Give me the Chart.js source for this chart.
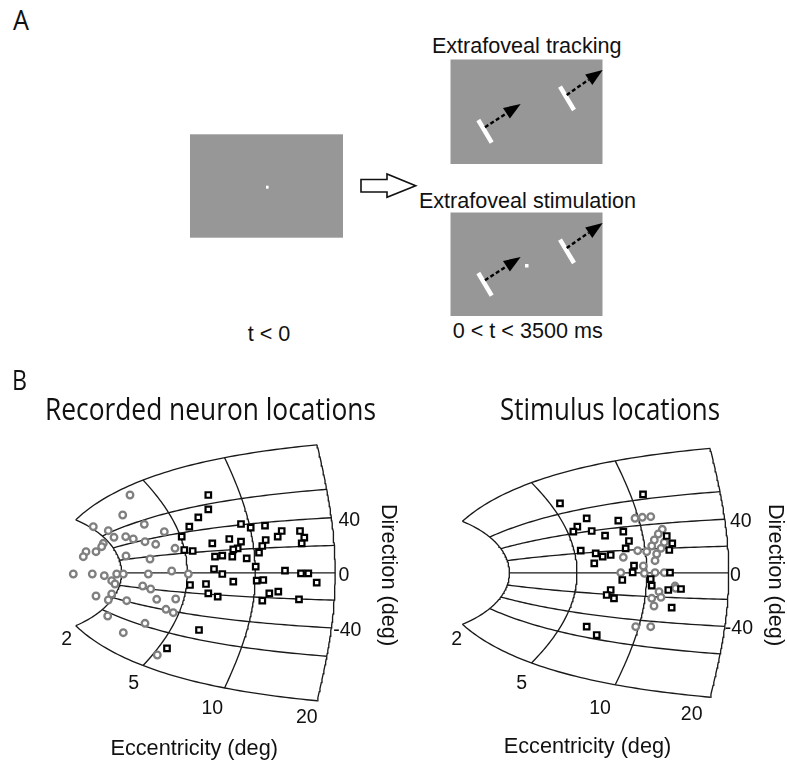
<!DOCTYPE html>
<html>
<head>
<meta charset="utf-8">
<script src="https://cdn.jsdelivr.net/npm/chart.js@4.4.0/dist/chart.umd.min.js"></script>
<style>
  html, body { margin: 0; padding: 0; background: #fff; }
  body { width: 787px; height: 764px; position: relative; overflow: hidden; }
  #panelA { position: absolute; left: 0; top: 0; }
  canvas { position: absolute; }
  #mapNeurons { left: 0; top: 360px; }
  #mapStimuli { left: 393px; top: 360px; }
  .sans { font-family: "Liberation Sans", Arial, sans-serif; font-size: 21.6px; fill: #111; }
  .letter { font-family: "Open Sans", "Noto Sans", sans-serif; font-size: 27px; fill: #111; }
</style>
</head>
<body>

<!-- Panel A: task schematic -->
<svg id="panelA" width="787" height="360" xmlns="http://www.w3.org/2000/svg">
  <defs>
    <g id="movingBars">
      <line x1="478.3" y1="120" x2="491.7" y2="142.7" stroke="#fff" stroke-width="4.5"/>
      <line x1="560" y1="86.7" x2="574" y2="110" stroke="#fff" stroke-width="4.5"/>
      <line x1="485" y1="127.3" x2="506.5" y2="113.3" stroke="#000" stroke-width="2.4" stroke-dasharray="4 2.5"/>
      <polygon points="520.7,104 509.9,118.6 503.0,108.0" fill="#000"/>
      <line x1="566.7" y1="95" x2="588.7" y2="79.7" stroke="#000" stroke-width="2.4" stroke-dasharray="4 2.5"/>
      <polygon points="602.7,70 592.3,84.9 585.2,74.5" fill="#000"/>
    </g>
  </defs>

  <text class="letter" x="13" y="29.5" textLength="16" lengthAdjust="spacingAndGlyphs">A</text>

  <!-- fixation -->
  <rect x="190" y="134.3" width="153" height="103.4" fill="#979797"/>
  <rect x="266" y="185.7" width="2.6" height="3" fill="#fff"/>
  <text class="sans" x="269" y="340.5" text-anchor="middle">t &lt; 0</text>

  <!-- transition arrow -->
  <polygon points="361,179.5 387,179.5 387,174 415.7,185.7 387,197.3 387,192 361,192"
           fill="#fff" stroke="#111" stroke-width="1.6" stroke-linejoin="miter"/>

  <!-- tracking condition -->
  <text class="sans" x="526.7" y="53.3" text-anchor="middle">Extrafoveal tracking</text>
  <rect x="450.5" y="59.5" width="152" height="104.5" fill="#979797"/>
  <use href="#movingBars"/>

  <!-- stimulation condition -->
  <text class="sans" x="527.5" y="208.3" text-anchor="middle">Extrafoveal stimulation</text>
  <rect x="450.5" y="212.5" width="152" height="103.5" fill="#979797"/>
  <use href="#movingBars" transform="translate(0,153)"/>
  <rect x="525" y="264" width="3.5" height="3.5" fill="#fff"/>
  <text class="sans" x="527.7" y="337.5" text-anchor="middle">0 &lt; t &lt; 3500 ms</text>
</svg>

<canvas id="mapNeurons" width="400" height="404"></canvas>
<canvas id="mapStimuli" width="394" height="404"></canvas>

<script>
// Grid of the collicular map: iso-eccentricity arcs and iso-direction lines (deg)
const ECC_ARCS = [2, 5, 10, 20];
const DIRECTION_LINES = [-90, -60, -40, -20, 0, 20, 40, 60, 90];
const DIRECTION_TICKS = [40, 0, -40];

const MAP_TITLES = ['Recorded neuron locations', 'Stimulus locations'];

// Sites on the collicular map, [rostro-caudal mm, medio-lateral mm]
const neuronSitesGray = [
  [0.80,1.556],[0.727,1.156],[0.433,0.922],[0.583,0.842],[0.64,0.71],[0.757,0.722],
  [0.833,0.676],[0.943,0.97],[1.143,0.822],[0.533,0.59],[0.517,0.522],[0.36,0.422],
  [0.333,0.322],[0.46,0.422],[0.76,0.336],[0.95,0.622],[1.057,0.57],[1.25,0.49],
  [1.00,0.276],[0.233,-0.024],[0.423,-0.024],[0.543,-0.058],[0.667,-0.024],[0.733,-0.024],
  [0.617,-0.158],[0.65,-0.224],[0.983,-0.024],[1.217,0.036],[1.383,-0.024],[0.927,-0.264],
  [1.007,-0.324],[0.46,-0.464],[0.617,-0.424],[0.583,-0.544],[0.767,-0.558],[1.067,-0.53],
  [1.257,-0.524],[1.16,-0.73],[1.233,-0.798],[0.577,-0.864],[0.95,-1.01],[0.733,-1.198],
  [1.073,-1.644]
];
const neuronSitesBlack = [
  [1.583,1.556],[1.583,1.27],[1.483,1.11],[1.393,0.922],[1.317,0.722],[1.343,0.456],
  [1.427,0.436],[1.91,0.976],[2.007,0.902],[2.15,0.942],[2.317,0.836],[2.277,0.722],
  [2.5,0.836],[2.543,0.702],[2.517,0.59],[2.157,0.656],[2.123,0.536],[2.09,0.402],
  [1.793,0.676],[1.91,0.622],[1.623,0.59],[1.877,0.49],[1.833,0.47],[1.65,0.322],
  [1.723,0.342],[1.823,0.322],[1.967,0.29],[2.057,0.122],[1.64,0.076],[1.723,-0.024],
  [2.35,0.042],[2.51,-0.01],[2.583,-0.01],[2.667,-0.198],[1.833,-0.178],[2.067,-0.158],
  [2.133,-0.144],[1.40,-0.244],[1.56,-0.224],[1.583,-0.41],[1.677,-0.478],[2.193,-0.41],
  [2.283,-0.378],[2.123,-0.558],[2.49,-0.53],[1.49,-1.144],[1.17,-1.51]
];
const stimulusSitesGray = [
  [1.939,1.121],[2.010,1.142],[2.092,1.154],[2.205,0.895],[2.166,0.798],[2.127,0.675],
  [2.224,0.627],[2.102,0.551],[2.192,0.504],[2.150,0.387],[2.134,0.249],[2.053,0.434],
  [1.965,0.455],[1.825,0.319],[2.020,0.140],[1.800,0.002],[2.030,-0.010],[2.134,0.002],
  [2.224,0.002],[2.173,-0.389],[2.102,-0.525],[2.192,-0.504],[2.124,-0.683],[2.329,-0.272],
  [2.335,-0.319],[1.946,-1.109],[2.092,-1.109]
];
const stimulusSitesBlack = [
  [2.017,1.615],[1.208,1.430],[1.468,1.121],[1.377,0.948],[1.338,0.846],[1.517,0.860],
  [1.647,0.763],[1.776,1.072],[1.825,0.846],[1.880,0.654],[1.848,0.504],[1.410,0.455],
  [1.556,0.401],[1.624,0.331],[1.702,0.366],[1.542,0.195],[1.929,0.146],[1.916,0.010],
  [1.815,-0.148],[2.092,-0.128],[2.102,-0.265],[2.248,0.757],[2.302,0.607],[2.273,0.469],
  [2.280,0.002],[2.263,-0.354],[2.387,-0.333],[1.702,-0.354],[1.663,-0.457],[1.734,-0.525],
  [2.296,-0.718],[1.468,-1.109],[1.566,-1.280]
];

// Log-polar afferent mapping (A = 3 deg, Bu = 1.4 mm, Bv = 1.8 mm/rad)
function mapPoint(ecc, dirDeg) {
  const A = 3, Bu = 1.4, Bv = 1.8;
  const phi = dirDeg * Math.PI / 180;
  const re = ecc * Math.cos(phi) + A;
  const im = ecc * Math.sin(phi);
  return { x: Bu * Math.log(Math.hypot(re, im) / A), y: Bv * Math.atan2(im, re) };
}

const toXY = arr => arr.map(([x, y]) => ({ x, y }));

function gridDatasets() {
  const style = { showLine: true, pointRadius: 0, borderColor: '#1a1a1a', borderWidth: 1.35,
                  fill: false, tension: 0, order: 5 };
  const sets = [];
  ECC_ARCS.forEach(e => {
    const pts = [];
    for (let d = -90; d <= 90; d += 2) pts.push(mapPoint(e, d));
    sets.push(Object.assign({ label: 'ecc ' + e, data: pts }, style));
  });
  DIRECTION_LINES.forEach(d => {
    const pts = [];
    const n = 60;
    for (let i = 0; i <= n; i++) pts.push(mapPoint(ECC_ARCS[0] * Math.pow(10, i / n), d));
    sets.push(Object.assign({ label: 'dir ' + d, data: pts }, style));
  });
  return sets;
}

function siteDatasets(gray, black) {
  return [
    { label: 'circles', data: toXY(gray), pointStyle: 'circle', pointRadius: 3.3,
      pointBorderWidth: 2.3, pointBorderColor: '#7f7f7f', pointBackgroundColor: '#fff',
      borderColor: '#7f7f7f', backgroundColor: '#fff', showLine: false, order: 2 },
    { label: 'squares', data: toXY(black), pointStyle: 'rect', pointRadius: 3.9,
      pointBorderWidth: 2.2, pointBorderColor: '#000', pointBackgroundColor: '#fff',
      borderColor: '#000', backgroundColor: '#fff', showLine: false, order: 1 }
  ];
}

function fitText(ctx, text, cx, baseline, width) {
  const w = ctx.measureText(text).width;
  ctx.save();
  ctx.translate(cx, baseline);
  ctx.scale(width / w, 1);
  ctx.textAlign = 'center';
  ctx.fillText(text, 0, 0);
  ctx.restore();
}

const TICK_FONT = '19.5px "Liberation Sans", Arial, sans-serif';
const AXIS_FONT = '21.7px "Liberation Sans", Arial, sans-serif';

const mapLabels = {
  id: 'mapLabels',
  afterDraw(chart, args, o) {
    const { ctx } = chart;
    const xs = chart.scales.x, ys = chart.scales.y;
    const px = p => [xs.getPixelForValue(p.x), ys.getPixelForValue(p.y)];
    ctx.save();
    ctx.fillStyle = '#111';
    ctx.textBaseline = 'alphabetic';

    if (o.panel) {
      ctx.font = '27px "Open Sans", "Noto Sans", sans-serif';
      fitText(ctx, o.panel, o.panelPos[0], o.panelPos[1], 15);
    }

    ctx.font = '31px "Open Sans", "Noto Sans", sans-serif';
    fitText(ctx, o.title, o.titlePos[0], o.titlePos[1], o.titleWidth);

    // eccentricity values under the lower ends of the arcs
    ctx.font = TICK_FONT;
    ctx.textAlign = 'center';
    ECC_ARCS.forEach((e, i) => {
      const [X, Y] = px(mapPoint(e, -90));
      ctx.fillText(String(e), X + o.eccOffsets[i][0], Y + o.eccOffsets[i][1] + 7);
    });

    // direction values beside the outer arc
    const [edgeX] = px(mapPoint(ECC_ARCS[ECC_ARCS.length - 1], 0));
    ctx.textAlign = 'left';
    const minusW = ctx.measureText('-').width;
    DIRECTION_TICKS.forEach(d => {
      const [, Y] = px(mapPoint(ECC_ARCS[ECC_ARCS.length - 1], d));
      ctx.fillText(String(d), edgeX + o.dirDx - (d < 0 ? minusW * 0.8 : 0), Y + o.dirDy + 7);
    });

    // axis titles
    ctx.font = AXIS_FONT;
    ctx.textAlign = 'center';
    ctx.fillText('Eccentricity (deg)', o.eccTitle[0], o.eccTitle[1]);
    ctx.translate(o.dirTitle[0], o.dirTitle[1]);
    ctx.rotate(Math.PI / 2);
    ctx.textBaseline = 'middle';
    ctx.fillText('Direction (deg)', 0, 0);
    ctx.restore();
  }
};

function buildMap(id, gray, black, layout, labels) {
  return new Chart(document.getElementById(id), {
    type: 'scatter',
    data: { datasets: gridDatasets().concat(siteDatasets(gray, black)) },
    plugins: [mapLabels],
    options: {
      responsive: false,
      devicePixelRatio: 1,
      animation: false,
      events: [],
      layout: { padding: layout.padding },
      scales: {
        x: { type: 'linear', display: false, min: layout.x[0], max: layout.x[1] },
        y: { type: 'linear', display: false, min: layout.y[0], max: layout.y[1] }
      },
      plugins: {
        legend: { display: false },
        tooltip: { enabled: false },
        mapLabels: labels
      }
    }
  });
}

buildMap('mapNeurons', neuronSitesGray, neuronSitesBlack,
  { padding: { left: 50, right: 50, top: 63, bottom: 41 }, x: [0, 3.0], y: [-3.004, 2.996] },
  { panel: 'B', panelPos: [19.5, 30], title: MAP_TITLES[0], titlePos: [210.5, 60], titleWidth: 331,
    eccOffsets: [[-9, 12.6], [-9.4, 16.5], [-12.3, 18.8], [-10.4, 15.7]],
    dirDx: 3.3, dirDy: 1.5, eccTitle: [194.2, 395], dirTitle: [388, 215] });

buildMap('mapStimuli', stimulusSitesGray, stimulusSitesBlack,
  { padding: { left: 43, right: 41, top: 63, bottom: 41 }, x: [0, 3.0203], y: [-3.0899, 3.0817] },
  { panel: null, title: MAP_TITLES[1], titlePos: [217, 60], titleWidth: 220,
    eccOffsets: [[-5.8, 14.1], [-9.9, 19.4], [-15.2, 22.6], [-18.5, 16.1]],
    dirDx: 1.3, dirDy: 1, eccTitle: [194.5, 393.3], dirTitle: [382, 215] });
</script>
</body>
</html>
